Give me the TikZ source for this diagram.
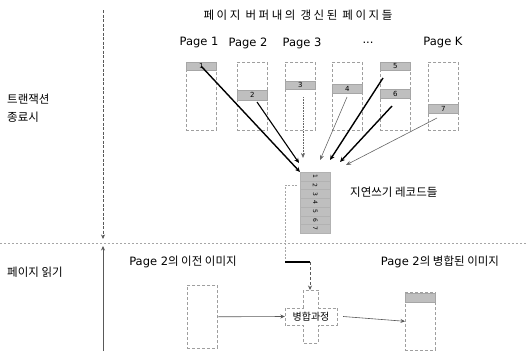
\documentclass[tikz,border=0pt]{standalone}
\usepackage{fontspec}
\setmainfont{Noto Sans CJK KR}
\newfontfamily\lat{DejaVu Sans}
\newfontfamily\krsp[LetterSpace=22]{Noto Sans CJK KR}
\usetikzlibrary{arrows.meta}
\begin{document}
\begin{tikzpicture}[x=1pt,y=-1pt,
  lbl/.style={font=\fontsize{11.5}{13}\selectfont, inner sep=0},
  pagebox/.style={draw=gray!75, line width=0.6pt, densely dashed, minimum width=30pt, minimum height=68pt, inner sep=0, anchor=north west},
  band/.style={fill=gray!50, draw=gray!70, line width=0.5pt, inner sep=0, minimum width=30pt, anchor=north west, font=\lat\fontsize{7}{7}\selectfont},
  logrow/.style={fill=gray!50, draw=gray!60, line width=0.4pt, inner sep=0, minimum width=30pt, minimum height=8.7pt, anchor=north west, font=\lat\fontsize{6}{6}\selectfont},
  thickarr/.style={line width=1.4pt, -{Stealth[length=5pt,width=4.5pt]}},
  thinarr/.style={line width=0.6pt, gray!80!black, -{Stealth[length=5pt,width=4pt]}},
  dotarr/.style={line width=0.6pt, gray!80!black, densely dotted, -{Stealth[length=5pt,width=4pt]}},
  divider/.style={line width=0.6pt, gray!70, dash pattern=on 2pt off 2pt},
  smallarr/.style={line width=0.6pt, gray!70!black, -{Stealth[length=4.5pt,width=4pt]}}
]
\useasboundingbox (0,0) rectangle (527,351);

% titles
\node[lbl] (title) at (298,15) {\krsp 페이지 버퍼내의 갱신된 페이지들};
\node[lbl] (p1) at (199,43) {\lat Page 1};
\node[lbl] (p2) at (248,43) {\lat Page 2};
\node[lbl] (p3) at (302,43) {\lat Page 3};
\node[lbl] (pd) at (368,43) {\lat ...};
\node[lbl] (pk) at (443,43) {\lat Page K};

\node[lbl, anchor=west] (tend1) at (7,99) {트랜잭션};
\node[lbl, anchor=west] (tend2) at (7,117) {종료시};
\node[lbl, anchor=west] (pread) at (7,272) {페이지 읽기};

% page boxes
\node[pagebox] (b1) at (186,62) {};
\node[pagebox] (b2) at (237,62) {};
\node[pagebox] (b3) at (285,62) {};
\node[pagebox] (b4) at (332,62) {};
\node[pagebox] (b5) at (380,62) {};
\node[pagebox] (bk) at (428,62) {};

\node[band, minimum height=8pt] (r1) at (186,62) {1};
\node[band, minimum height=10pt] (r2) at (237,90) {2};
\node[band, minimum height=8pt] (r3) at (285,81) {3};
\node[band, minimum height=9pt] (r4) at (332,84) {4};
\node[band, minimum height=8pt] (r5) at (380,62) {5};
\node[band, minimum height=9pt] (r6) at (380,89) {6};
\node[band, minimum height=9pt] (r7) at (428,104) {7};

% log stack
\node[logrow] (l1) at (300,172) {\rotatebox{-90}{1}};
\node[logrow] (l2) at (300,180.7) {\rotatebox{-90}{2}};
\node[logrow] (l3) at (300,189.4) {\rotatebox{-90}{3}};
\node[logrow] (l4) at (300,198.1) {\rotatebox{-90}{4}};
\node[logrow] (l5) at (300,206.8) {\rotatebox{-90}{5}};
\node[logrow] (l6) at (300,215.5) {\rotatebox{-90}{6}};
\node[logrow] (l7) at (300,224.2) {\rotatebox{-90}{7}};
\node[lbl, anchor=west] (loglbl) at (350,192) {지연쓰기 레코드들};

% arrows to log
\coordinate (s2) at (257,102);
\coordinate (s3) at (303,97);
\coordinate (s4) at (347,97);
\coordinate (s5) at (383,78);
\coordinate (s6) at (392,106);
\coordinate (s7) at (437,118);
\coordinate (t2) at (299,163);
\coordinate (t3) at (303,158);
\coordinate (t4) at (320,160);
\coordinate (t5) at (330,160);
\coordinate (t6) at (340,162);
\coordinate (t7) at (346,165);
\draw[thickarr] (r1.center) -- (l1.north west);
\draw[thickarr, line width=1.1pt] (s2) -- (t2);
\draw[dotarr] (s3) -- (t3);
\draw[thinarr] (s4) -- (t4);
\draw[thickarr] (s5) -- (t5);
\draw[thickarr] (s6) -- (t6);
\draw[thinarr] (s7) -- (t7);

% left time line
\coordinate (vtop) at (103,10);
\coordinate (vmid) at (103,239);
\coordinate (vbot) at (103,351);
\coordinate (vup) at (103,246);
\draw[smallarr, dash pattern=on 3pt off 1.5pt] (vtop) -- (vmid);
\draw[smallarr] (vbot) -- (vup);

% divider
\coordinate (dl) at (0,243);
\coordinate (dr) at (527,243);
\draw[divider] (dl) -- (dr);

% bottom
\node[lbl] (prevlbl) at (183,262) {\lat Page 2\normalfont 의 이전 이미지};
\node[lbl] (mergedlbl) at (440,262) {\lat Page 2\normalfont 의 병합된 이미지};
\node[pagebox, minimum height=63pt] (prev) at (187,285) {};
\node[pagebox, minimum height=58pt] (merged) at (405,292) {};
\node[band, minimum height=9pt] (mband) at (405,293) {};

\node[inner sep=0, minimum width=52pt, minimum height=17pt, font=\fontsize{10}{10}\selectfont] (merge) at (311,316.5) {병합과정};
\draw[gray!75, line width=0.6pt, densely dashed]
  ([xshift=-7.5pt]merge.north) -- ++(0,-18) -- ++(15,0) -- ([xshift=7.5pt]merge.north)
  -- (merge.north east) -- (merge.south east) -- ([xshift=7.5pt]merge.south)
  -- ++(0,18) -- ++(-15,0) -- ([xshift=-7.5pt]merge.south)
  -- (merge.south west) -- (merge.north west) -- cycle;

\draw[smallarr] (prev.east) -- (merge.west);
\draw[smallarr] ([xshift=6pt]merge.east) -- (merged.west);

% elbow from log to merge
\coordinate (e1) at (297,185);
\coordinate (e2) at (285,185);
\coordinate (e3) at (285,262);
\coordinate (e4) at (310,262);
\coordinate (mtop) at (310,290);
\draw[gray!70, line width=0.6pt, dash pattern=on 2pt off 1.5pt] (e1) -- (e2) -- (e3);
\draw[black, line width=1.4pt] (e3) -- (e4);
\draw[smallarr, densely dashed] (e4) -- (mtop);
\end{tikzpicture}
\end{document}
